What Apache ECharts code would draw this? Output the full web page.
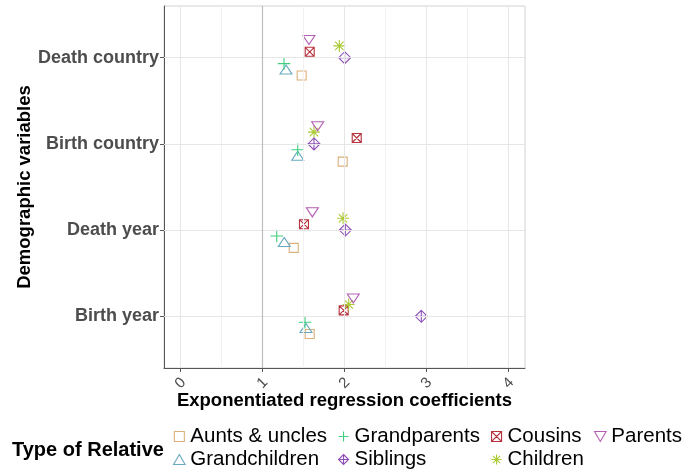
<!DOCTYPE html>
<html>
<head>
<meta charset="utf-8">
<script src="https://cdn.jsdelivr.net/npm/echarts@6/dist/echarts.min.js"></script>
<style>
html,body{margin:0;padding:0;background:#fff;}
#chart{width:685px;height:471px;}
</style>
</head>
<body>
<div id="chart"></div>
<script>
// Categories (bottom to top on the y axis)
const categories = ['Birth year', 'Death year', 'Birth country', 'Death country'];
// Relative types in factor order (dodge order bottom -> top)
const relatives = ['Aunts & uncles', 'Grandchildren', 'Grandparents', 'Siblings', 'Cousins', 'Children', 'Parents'];
// Exponentiated coefficients per relative, in category order [Birth year, Death year, Birth country, Death country]
const auntsUncles   = [1.576, 1.381, 1.978, 1.478];
const grandchildren = [1.531, 1.266, 1.430, 1.287];
const grandparents  = [1.519, 1.174, 1.430, 1.263];
const siblings      = [2.936, 2.010, 1.628, 2.002];
const cousins       = [1.990, 1.506, 2.149, 1.576];
const children      = [2.051, 1.982, 1.628, 1.937];
const parents       = [2.107, 1.608, 1.673, 1.567];
const xTicks = [0, 1, 2, 3, 4];
const xMinorTicks = [0.5, 1.5, 2.5, 3.5];
const refLine = 1;

const valuesByRelative = [auntsUncles, grandchildren, grandparents, siblings, cousins, children, parents];
const colors = ['#DBB07B', '#67AAC0', '#3ECF7E', '#8E50B8', '#B7333E', '#ABCA35', '#B45FB3'];
const symbols = [
  'path://M0,0H10V10H0Z',
  'path://M5,0L10,8.66H0Z',
  'path://M5,0V10M0,5H10',
  'path://M5,0L10,5L5,10L0,5ZM5,0V10M0,5H10',
  'path://M0,0H10V10H0ZM0,0L10,10M10,0L0,10',
  'path://M5,0V10M0,5H10M1.46,1.46L8.54,8.54M8.54,1.46L1.46,8.54',
  'path://M0,0H10L5,8.66Z'
];
const sizes = [9, [12, 10.4], 12.5, 12, 9, 12, [12, 10.4]];
const dodgeWidth = 0.48;
const nGroups = relatives.length;

const FONT = "'Liberation Sans', Arial, Helvetica, sans-serif";

const series = relatives.map((name, gi) => ({
  name: name,
  type: 'scatter',
  z: 3,
  symbol: symbols[gi],
  symbolSize: sizes[gi],
  symbolKeepAspect: true,
  itemStyle: { color: 'transparent', borderColor: colors[gi], borderWidth: 1.1, opacity: 1 },
  emphasis: { disabled: true },
  data: valuesByRelative[gi].map((v, ci) => [v, ci + 1 + (gi - (nGroups - 1) / 2) * dodgeWidth / nGroups])
}));

const gridMajor = { color: '#e6e6e6', width: 1, type: 'solid' };
const gridMinor = { color: '#f1f1f1', width: 1, type: 'solid' };
series.unshift({
  name: 'grid',
  type: 'scatter',
  z: 1,
  data: [],
  markLine: {
    silent: true,
    animation: false,
    symbol: ['none', 'none'],
    label: { show: false },
    data: [].concat(
      xMinorTicks.map(v => ({ xAxis: v, lineStyle: gridMinor })),
      xTicks.map(v => ({ xAxis: v, lineStyle: gridMajor })),
      categories.map((c, i) => ({ yAxis: i + 1, lineStyle: gridMajor })),
      [{ xAxis: refLine, lineStyle: { color: '#bdbdbd', width: 1.2, type: 'solid' } }]
    )
  }
});

const legendCols = [
  { left: 173, data: ['Aunts & uncles', 'Grandchildren'] },
  { left: 338, data: ['Grandparents', 'Siblings'] },
  { left: 491, data: ['Cousins', 'Children'] },
  { left: 594, data: ['Parents'] }
];

const option = {
  animation: false,
  backgroundColor: '#fff',
  grid: {
    left: 164, top: 6, right: 160, bottom: 103,
    show: true, borderColor: '#d2d2d2', borderWidth: 1, backgroundColor: 'transparent'
  },
  xAxis: {
    type: 'value', min: -0.2, max: 4.2,
    name: 'Exponentiated regression coefficients',
    nameLocation: 'middle', nameGap: 23, nameMoveOverlap: false,
    nameTextStyle: { fontFamily: FONT, fontWeight: 'bold', fontSize: 18.5, color: '#000' },
    axisLine: { show: true, onZero: false, lineStyle: { color: '#555', width: 1 } },
    axisTick: { show: true, customValues: xTicks, length: 4, lineStyle: { color: '#555' } },
    axisLabel: {
      customValues: xTicks, rotate: 45, margin: 15, align: 'center', verticalAlign: 'middle',
      fontFamily: FONT, fontSize: 15, color: '#4d4d4d',
      formatter: v => String(v)
    },
    splitLine: { show: false }
  },
  yAxis: {
    type: 'value', min: 0.4, max: 4.6,
    name: 'Demographic variables',
    nameLocation: 'middle', nameGap: 130, nameRotate: 90, nameMoveOverlap: false,
    nameTextStyle: { fontFamily: FONT, fontWeight: 'bold', fontSize: 18.5, color: '#000' },
    axisLine: { show: true, onZero: false, lineStyle: { color: '#555', width: 1 } },
    axisTick: { show: true, customValues: categories.map((c, i) => i + 1), length: 4, lineStyle: { color: '#555' } },
    axisLabel: {
      customValues: categories.map((c, i) => i + 1), margin: 5,
      fontFamily: FONT, fontWeight: 'bold', fontSize: 18, color: '#4d4d4d',
      formatter: v => categories[Math.round(v) - 1]
    },
    splitLine: { show: false }
  },
  legend: legendCols.map(col => ({
    left: col.left, top: 426, orient: 'vertical', padding: 0, itemGap: 2,
    itemWidth: 12, itemHeight: 10, selectedMode: false,
    itemStyle: { borderWidth: 1.1 },
    textStyle: { fontFamily: FONT, fontSize: 20.5, color: '#000', lineHeight: 20 },
    data: col.data
  })),
  graphic: [{
    type: 'text', x: 12, y: 450,
    style: { text: 'Type of Relative', font: 'bold 20px ' + FONT, fill: '#000', verticalAlign: 'middle', align: 'left' }
  }],
  series: series
};

const chart = echarts.init(document.getElementById('chart'), null, { renderer: 'canvas' });
chart.setOption(option);
</script>
</body>
</html>
